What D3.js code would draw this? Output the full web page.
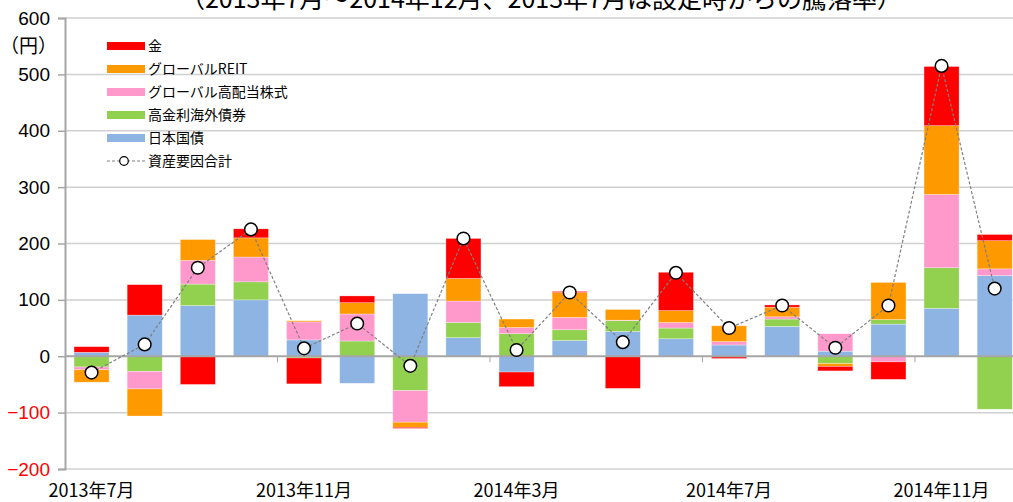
<!DOCTYPE html>
<html>
<head>
<meta charset="utf-8">
<script src="https://cdn.jsdelivr.net/npm/d3@7"></script>
<style>
  body { margin: 0; background: #ffffff; }
  svg { display: block; }
</style>
</head>
<body>
<div id="chart"></div>
<script>
const months = [
  "2013年7月", "2013年8月", "2013年9月", "2013年10月", "2013年11月", "2013年12月",
  "2014年1月", "2014年2月", "2014年3月", "2014年4月", "2014年5月", "2014年6月",
  "2014年7月", "2014年8月", "2014年9月", "2014年10月", "2014年11月", "2014年12月"
];
const labelMonths = ["2013年7月", "2013年11月", "2014年3月", "2014年7月", "2014年11月"];

// 資産別要因（円）
const gold      = [10, 54, -50, 16, -46, 12, -2, 71, -26, 2, -57, 68, -3, 4, -8, -31, 105, 11];
const reit      = [-22, -48, 37, 34, 2, 20, -9, 40, 15, 44, 19, 21, 28, 17, -5, 66, 122, 50];
const equity    = [-5, -31, 42, 44, 32, 48, -56, 38, 11, 22, 1, 10, 6, 4, 31, -10, 130, 12];
const highYield = [-19, -27, 38, 32, -3, 27, -61, 27, 40, 19, 19, 19, -1, 13, -13, 8, 72, -94];
const jgb       = [7, 73, 90, 100, 29, -48, 111, 33, -28, 28, 44, 31, 20, 53, 9, 57, 85, 143];
const total     = [-29, 21, 157, 225, 14, 58, -17, 209, 11, 113, 25, 148, 50, 90, 15, 90, 515, 120];

const yTicks = [-200, -100, 0, 100, 200, 300, 400, 500, 600];

const series = [
  { key: "jgb", name: "日本国債", color: "#8db4e2", values: jgb },
  { key: "highYield", name: "高金利海外債券", color: "#92d050", values: highYield },
  { key: "equity", name: "グローバル高配当株式", color: "#ff99cc", values: equity },
  { key: "reit", name: "グローバルREIT", color: "#ff9900", values: reit },
  { key: "gold", name: "金", color: "#ff0000", values: gold }
];

const width = 1013;
const height = 502;

const svg = d3.select("#chart")
  .append("svg")
  .attr("width", width)
  .attr("height", height)
  .style("background", "#ffffff");

const step = 53.125;
const xScale = d3.scaleBand().domain(months)
  .range([65, 65 + step * months.length])
  .paddingInner(0.34).paddingOuter(0.17);
const yScale = d3.scaleLinear().domain([-200, 600]).range([469, 18]);

// title (top half is cut off in the original)
svg.append("text")
  .attr("x", 541)
  .attr("y", 8)
  .attr("text-anchor", "middle")
  .style("font-family", "'Noto Sans CJK JP', sans-serif")
  .style("font-size", "25px")
  .attr("fill", "#000")
  .text("（2013年7月～2014年12月、2013年7月は設定時からの騰落率）");

// gridlines
svg.append("g")
  .selectAll("line")
  .data(yTicks.filter(d => d !== 0))
  .enter()
  .append("line")
  .attr("x1", 65)
  .attr("x2", width)
  .attr("y1", d => yScale(d))
  .attr("y2", d => yScale(d))
  .attr("stroke", "#d0d0d0")
  .attr("stroke-width", 1.5);

// y axis
const yAxis = d3.axisLeft(yScale).tickValues(yTicks).tickSize(7).tickPadding(8);
const yg = svg.append("g")
  .attr("transform", "translate(65, 0)")
  .call(yAxis);
yg.select(".domain").attr("stroke", "#a6a6a6").attr("stroke-width", 2);
yg.selectAll(".tick line").attr("stroke", "#a6a6a6").attr("stroke-width", 1.5);
yg.selectAll(".tick text")
  .style("font-family", "'Liberation Sans', Arial, sans-serif")
  .style("font-size", "19px")
  .attr("fill", d => d < 0 ? "#ff0000" : "#000");

svg.append("text")
  .attr("x", 0)
  .attr("y", 53)
  .style("font-family", "'Noto Sans CJK JP', sans-serif")
  .style("font-size", "19px")
  .text("（円）");

// stacked bars
const table = months.map((m, i) => {
  const row = { month: m };
  series.forEach(s => { row[s.key] = s.values[i]; });
  return row;
});

const stacked = d3.stack()
  .keys(series.map(s => s.key))
  .offset(d3.stackOffsetDiverging)(table);

svg.append("g")
  .selectAll("g")
  .data(stacked)
  .enter()
  .append("g")
  .attr("fill", (d, i) => series[i].color)
  .selectAll("rect")
  .data(d => d)
  .enter()
  .append("rect")
  .attr("x", d => xScale(d.data.month))
  .attr("y", d => yScale(Math.max(d[0], d[1])))
  .attr("width", xScale.bandwidth())
  .attr("height", d => Math.abs(yScale(d[0]) - yScale(d[1])))
  .attr("stroke", "#ffffff")
  .attr("stroke-opacity", 0.5)
  .attr("stroke-width", 0.6);

// zero axis line with tick marks between every 4 months
const y0 = yScale(0);
svg.append("line")
  .attr("x1", 65)
  .attr("x2", width)
  .attr("y1", y0)
  .attr("y2", y0)
  .attr("stroke", "#a6a6a6")
  .attr("stroke-width", 2);

const gap = (xScale.step() - xScale.bandwidth()) / 2;
svg.append("g")
  .selectAll("line")
  .data(months.filter((m, i) => i > 0 && i % 4 === 0))
  .enter()
  .append("line")
  .attr("x1", d => xScale(d) - gap)
  .attr("x2", d => xScale(d) - gap)
  .attr("y1", y0)
  .attr("y2", y0 + 6)
  .attr("stroke", "#a6a6a6")
  .attr("stroke-width", 1);

// x labels at the bottom
svg.append("g")
  .selectAll("text")
  .data(labelMonths)
  .enter()
  .append("text")
  .attr("x", d => xScale(d) + xScale.bandwidth() / 2)
  .attr("y", 497)
  .attr("text-anchor", "middle")
  .style("font-family", "'Noto Sans CJK JP', sans-serif")
  .style("font-size", "18px")
  .text(d => d);

// total line + markers
const line = d3.line()
  .x((d, i) => xScale(months[i]) + xScale.bandwidth() / 2)
  .y(d => yScale(d));

svg.append("path")
  .datum(total)
  .attr("d", line)
  .attr("fill", "none")
  .attr("stroke", "#7f7f7f")
  .attr("stroke-width", 1.2)
  .attr("stroke-dasharray", "3,2");

svg.append("g")
  .selectAll("circle")
  .data(total)
  .enter()
  .append("circle")
  .attr("cx", (d, i) => xScale(months[i]) + xScale.bandwidth() / 2)
  .attr("cy", d => yScale(d))
  .attr("r", 6.3)
  .attr("fill", "#ffffff")
  .attr("stroke", "#000")
  .attr("stroke-width", 1.5);

// legend
const legendItems = series.slice().reverse();
const legend = svg.append("g").attr("transform", "translate(107, 46)");

legendItems.forEach((s, i) => {
  legend.append("rect")
    .attr("x", 0)
    .attr("y", i * 23 - 4)
    .attr("width", 38)
    .attr("height", 8)
    .attr("fill", s.color);
  legend.append("text")
    .attr("x", 41)
    .attr("y", i * 23 + 5)
    .style("font-family", "'Noto Sans CJK JP', sans-serif")
    .style("font-size", "14px")
    .text(s.name);
});

const ly = legendItems.length * 23;
legend.append("line")
  .attr("x1", 0)
  .attr("x2", 38)
  .attr("y1", ly)
  .attr("y2", ly)
  .attr("stroke", "#7f7f7f")
  .attr("stroke-width", 1)
  .attr("stroke-dasharray", "3,2");
legend.append("circle")
  .attr("cx", 17)
  .attr("cy", ly)
  .attr("r", 4.3)
  .attr("fill", "#fff")
  .attr("stroke", "#000")
  .attr("stroke-width", 1.2);
legend.append("text")
  .attr("x", 41)
  .attr("y", ly + 5)
  .style("font-family", "'Noto Sans CJK JP', sans-serif")
  .style("font-size", "14px")
  .text("資産要因合計");
</script>
</body>
</html>
